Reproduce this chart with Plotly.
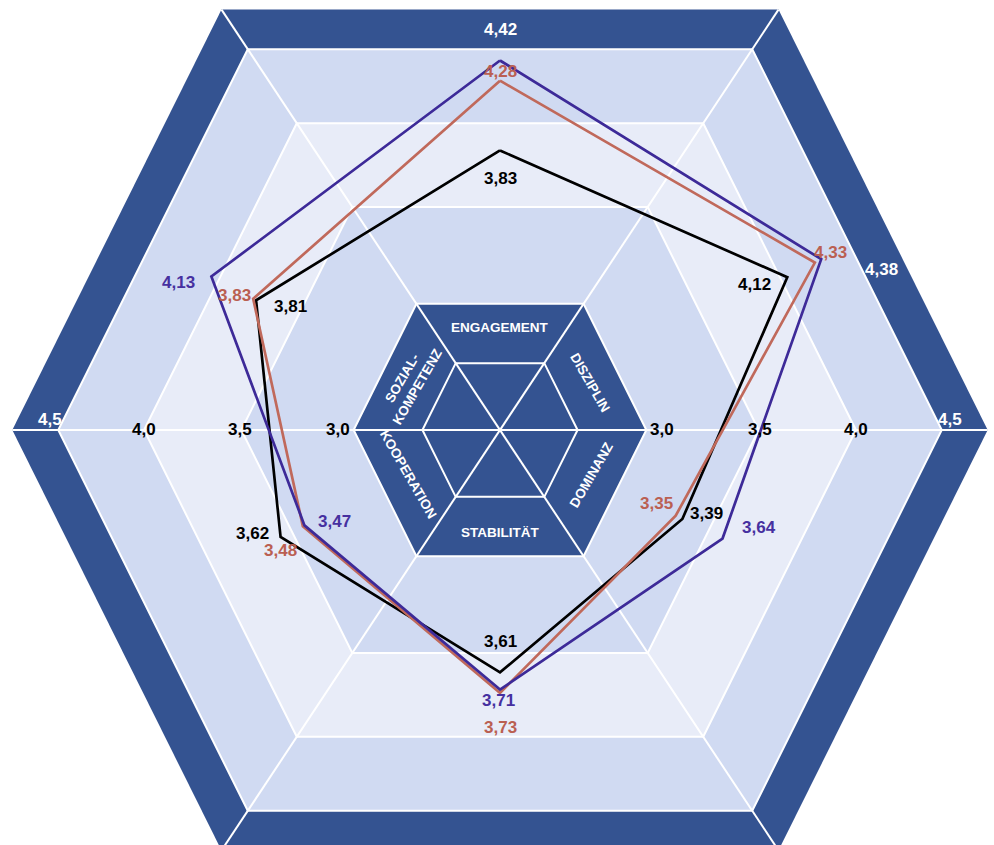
import math
import plotly.graph_objects as go

# ---------------- data ----------------
categories = ["ENGAGEMENT", "DISZIPLIN", "DOMINANZ", "STABILITÄT", "KOOPERATION", "SOZIAL-<br>KOMPETENZ"]
series_black = [3.83, 4.12, 3.39, 3.61, 3.62, 3.81]
series_red = [4.28, 4.33, 3.35, 3.73, 3.48, 3.83]
series_purple = [4.42, 4.38, 3.64, 3.71, 3.47, 4.13]
tick_values = [3.0, 3.5, 4.0, 4.5]
tick_labels = ["3,0", "3,5", "4,0", "4,5"]

# ---------------- style / layout constants ----------------
W, H = 994, 845
ML, MR, MT, MB = 6, 0, 15, 0
V_CENTER, V_EDGE = 2.454, 4.752     # radial (log) axis: value at centre / at the polar circle
FRAME = 4.793                       # outer edge of the dark frame (axis value)
CORE_FRAC = 0.53                    # small inner hexagon, fraction of the 3.0 ring
CAT_FRAC = 0.81                     # category labels, fraction of the 3.0 ring
AXIS_ANGLES = [90, 28, -26, -90, 206, 152]
HEX_H, HEX_W = 0.862, 0.571         # hexagon shape (top edge height / half width, vs vertex radius)

DARK = "#345391"
LIGHT = "#D0DAF2"
LIGHTEST = "#E8ECF8"
C_BLACK = "#000000"
C_RED = "#C0695B"
C_PURPLE = "#3D2A98"
C_RED_TXT = "#BA5F52"
C_PURPLE_TXT = "#4630A0"
FONT = "Liberation Sans, Arial, sans-serif"

VA = math.degrees(math.atan2(HEX_H, HEX_W))
DIAG = math.hypot(HEX_H, HEX_W)
HEX_ANG = [0, VA, 180 - VA, 180, 180 + VA, 360 - VA]
HEX_FAC = [1, DIAG, DIAG, 1, DIAG, DIAG]

# -------- geometry of the polar subplot (used for shapes and annotations) --------
PW, PH = W - ML - MR, H - MT - MB
P = min(PW, PH) / 2
CX, CY = ML + PW / 2, MT + PH / 2
L0, L1 = math.log10(V_CENTER), math.log10(V_EDGE)


def dist(v):
    """pixel distance from the centre of value v on the radial (log) axis"""
    return P * (math.log10(v) - L0) / (L1 - L0)


def to_paper(theta, d):
    px = CX + d * math.cos(math.radians(theta))
    py = CY - d * math.sin(math.radians(theta))
    return (px - ML) / PW, 1 - (py - MT) / PH


def hex_path(d_apothem):
    R = d_apothem / HEX_H
    pts = [to_paper(a, R * f) for a, f in zip(HEX_ANG, HEX_FAC)]
    return "M " + " L ".join(f"{x:.5f},{y:.5f}" for x, y in pts) + " Z"


shapes = []
bands = [(FRAME, DARK, 0), (tick_values[3], LIGHT, 2), (tick_values[2], LIGHTEST, 2),
         (tick_values[1], LIGHT, 2), (tick_values[0], DARK, 2)]
for v, col, lw in bands:
    shapes.append(dict(type="path", path=hex_path(dist(v)), xref="paper", yref="paper", layer="below",
                       fillcolor=col, line=dict(color="white", width=lw)))
shapes.append(dict(type="path", path=hex_path(CORE_FRAC * dist(tick_values[0])), xref="paper", yref="paper",
                   layer="below", fillcolor="rgba(0,0,0,0)", line=dict(color="white", width=2)))
R_frame = dist(FRAME) / HEX_H
for i in range(3):
    x0, y0 = to_paper(HEX_ANG[i], R_frame * HEX_FAC[i])
    x1, y1 = to_paper(HEX_ANG[i + 3], R_frame * HEX_FAC[i + 3])
    shapes.append(dict(type="line", x0=x0, y0=y0, x1=x1, y1=y1, xref="paper", yref="paper",
                       layer="below", line=dict(color="white", width=2)))

fig = go.Figure()
for vals, col in [(series_black, C_BLACK), (series_red, C_RED), (series_purple, C_PURPLE)]:
    fig.add_trace(go.Scatterpolar(r=vals + [vals[0]], theta=AXIS_ANGLES + [AXIS_ANGLES[0]],
                                  mode="lines", line=dict(color=col, width=2.7),
                                  hoverinfo="skip", showlegend=False))

annotations = []


def label_at(theta, d, text, color, dx, dy, size=17, angle=0):
    x, y = to_paper(theta, d)
    annotations.append(dict(x=x, y=y, xref="paper", yref="paper", text=text, showarrow=False,
                            xanchor="center", yanchor="middle", xshift=dx, yshift=-dy,
                            textangle=angle,
                            font=dict(family=FONT, size=size, color=color, weight="bold")))


def fmt(v):
    return f"{v:.2f}".replace(".", ",")


# value labels (offsets in px from the data point)
off_black = [(0, 28), (-33, 7), (24, -5), (0, -31), (-28, -4), (34, 6)]
off_red = [(0, -9), (16, -10), (-19, -12), (0, 35), (-22, 24), (-19, -3)]
off_purple = [(0, -31), (60, 10), (36, -11), (-2, 11), (30, -4), (-33, 6)]
purple_cols = ["white", "white", C_PURPLE_TXT, C_PURPLE_TXT, C_PURPLE_TXT, C_PURPLE_TXT]
for i, a in enumerate(AXIS_ANGLES):
    label_at(a, dist(series_black[i]), fmt(series_black[i]), C_BLACK, *off_black[i])
    label_at(a, dist(series_red[i]), fmt(series_red[i]), C_RED_TXT, *off_red[i])
    label_at(a, dist(series_purple[i]), fmt(series_purple[i]), purple_cols[i], *off_purple[i])

# tick labels along the horizontal line (at the ring vertices)
tick_off = [(16, -1), (1, -1), (0, -1), (8, -11)]
for v, t, (dx, dy) in zip(tick_values, tick_labels, tick_off):
    R = dist(v) / HEX_H
    col = "white" if v == tick_values[-1] else "black"
    label_at(0, R, t, col, dx, dy)
    label_at(180, R, t, col, -dx, dy)

# category labels inside the central hexagon
cat_d = CAT_FRAC * dist(tick_values[0])
cat_angles = [0, 60, -60, 0, 60, -60]
for a, name, ta in zip(AXIS_ANGLES, categories, cat_angles):
    x, y = to_paper(a, cat_d)
    annotations.append(dict(x=x, y=y, xref="paper", yref="paper", text=name, showarrow=False,
                            xanchor="center", yanchor="middle", textangle=ta,
                            font=dict(family=FONT, size=13.5, color="white", weight="bold")))

fig.update_layout(
    width=W, height=H,
    margin=dict(l=ML, r=MR, t=MT, b=MB, pad=0),
    paper_bgcolor="white", plot_bgcolor="white",
    showlegend=False,
    polar=dict(
        domain=dict(x=[0, 1], y=[0, 1]),
        bgcolor="rgba(0,0,0,0)",
        radialaxis=dict(type="log", range=[L0, L1], visible=False, showgrid=False),
        angularaxis=dict(visible=False, showgrid=False, rotation=0, direction="counterclockwise"),
    ),
    shapes=shapes,
    annotations=annotations,
)

fig.write_html("out.html")
